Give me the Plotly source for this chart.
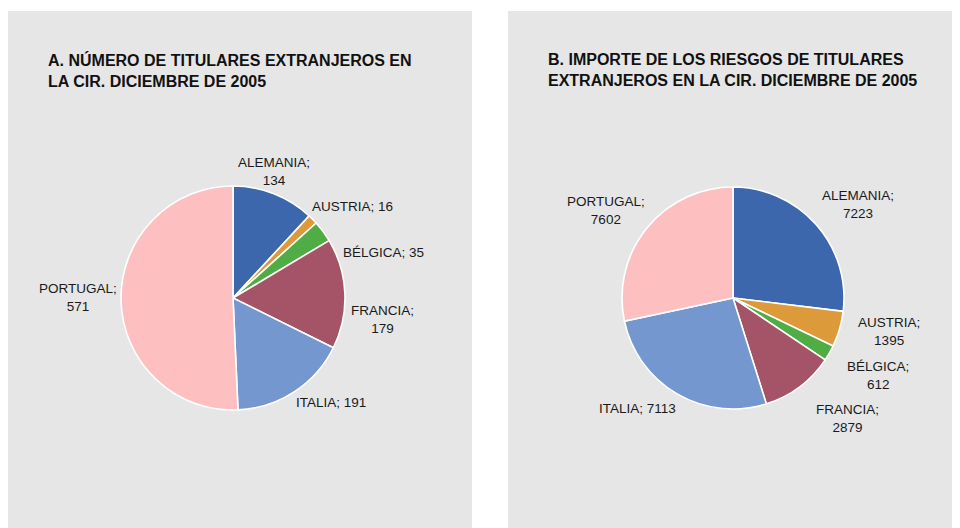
import plotly.graph_objects as go

countries = ["ALEMANIA", "AUSTRIA", "BÉLGICA", "FRANCIA", "ITALIA", "PORTUGAL"]
titulares = [134, 16, 35, 179, 191, 571]
importe = [7223, 1395, 612, 2879, 7113, 7602]
colors = ["#3c67ad", "#dd9a3a", "#50ad46", "#a55367", "#7597cf", "#fdbfc0"]

title_a = "A. NÚMERO DE TITULARES EXTRANJEROS EN<br>LA CIR. DICIEMBRE DE 2005"
title_b = "B. IMPORTE DE LOS RIESGOS DE TITULARES<br>EXTRANJEROS EN LA CIR. DICIEMBRE DE 2005"

# label line-break style per chart
brk_a = [True, False, False, True, False, True]
brk_b = [True, True, True, True, False, True]

# --- layout (pixels; the page is offset 8px by the browser body margin) ---
W, H = 960, 528
OFF = 8
FONT = "Liberation Sans, Arial, Helvetica"
# label centre offsets from pie centre (px), as placed in the original
lab_off_a = [(40.5, -127), (119, -92), (150.5, -46), (149.5, 21), (98, 104), (-155.5, -0.5)]
lab_off_b = [(124.5, -94), (156, 33), (145, 77), (114, 120), (-96, 110), (-127, -88)]


def labels(vals, brk):
    return [f"{c};<br>{v}" if b else f"{c}; {v}" for c, v, b in zip(countries, vals, brk)]


def dom(cx, cy, r):
    cx -= OFF
    cy -= OFF
    return dict(x=[(cx - r) / W, (cx + r) / W], y=[1 - (cy + r) / H, 1 - (cy - r) / H])


charts = [
    (titulares, brk_a, (233, 298), 112, lab_off_a),
    (importe, brk_b, (733, 298), 111, lab_off_b),
]

fig = go.Figure()
annotations = []
for vals, brk, (cx, cy), r, offs in charts:
    fig.add_trace(go.Pie(
        labels=countries, values=vals, sort=False, direction="clockwise",
        rotation=0, hole=0, showlegend=False, textinfo="none",
        marker=dict(colors=colors, line=dict(color="white", width=1.6)),
        domain=dom(cx, cy, r), hoverinfo="label+value",
    ))
    for t, (dx, dy) in zip(labels(vals, brk), offs):
        annotations.append(dict(
            text=t, x=(cx - OFF + dx) / W, y=1 - (cy - OFF + dy) / H,
            xref="paper", yref="paper", xanchor="center", yanchor="middle",
            showarrow=False, align="center",
            font=dict(family=FONT, size=13.5, color="#1a1a1a"),
        ))

shapes = [
    dict(type="rect", xref="paper", yref="paper", x0=(8 - OFF) / W, x1=(472 - OFF) / W,
         y0=-0.05, y1=1 - (11 - OFF) / H, fillcolor="#e6e6e6", line=dict(width=0), layer="below"),
    dict(type="rect", xref="paper", yref="paper", x0=(508 - OFF) / W, x1=1.05,
         y0=-0.05, y1=1 - (11 - OFF) / H, fillcolor="#e6e6e6", line=dict(width=0), layer="below"),
]


def bold(t):
    return "<br>".join(f"<b>{s}</b>" for s in t.split("<br>"))


for t, x in [(title_a, 46), (title_b, 546)]:
    annotations.append(dict(
        text=bold(t), x=(x - OFF) / W, y=1 - (49 - OFF) / H, xref="paper", yref="paper",
        xanchor="left", yanchor="top", showarrow=False, align="left",
        font=dict(family=FONT, size=16, color="#111111"),
    ))

fig.update_layout(
    width=W, height=H, margin=dict(l=0, r=0, t=0, b=0),
    paper_bgcolor="white", plot_bgcolor="white",
    shapes=shapes, annotations=annotations,
)
fig.write_html("out.html")
